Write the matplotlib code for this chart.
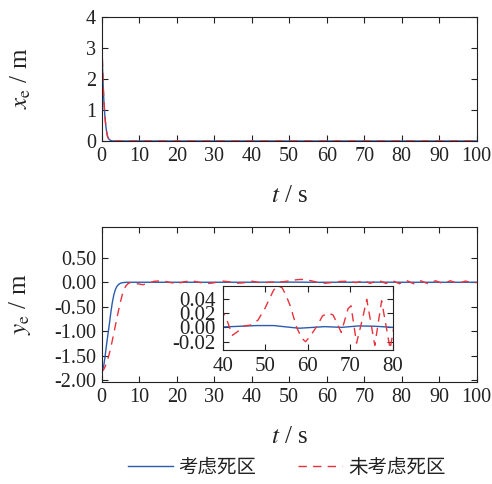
import matplotlib
matplotlib.use('Agg')
import matplotlib.pyplot as plt
from matplotlib.ticker import FormatStrFormatter

plt.rcParams['font.family'] = ['Liberation Serif', 'Noto Sans CJK SC']
plt.rcParams['mathtext.fontset'] = 'stix'
plt.rcParams['axes.unicode_minus'] = True

BLUE = '#2a5cb0'
RED = '#e8323c'
INK = '#222222'

# x_e 误差
t_x = [0, 0.2, 0.4, 0.6, 0.8, 1.0, 1.2, 1.4, 1.6, 1.9, 2.2, 2.6, 3.0, 5.0, 100]
xe_dz = [3.30, 2.45, 1.75, 1.25, 0.88, 0.60, 0.38, 0.24, 0.13, 0.06, 0.03, 0.01, 0.0, 0.0, 0.0]
xe_nodz = [3.60, 2.60, 1.80, 1.28, 0.90, 0.61, 0.39, 0.24, 0.13, 0.06, 0.03, 0.01, 0.0, 0.0, 0.0]

# y_e 误差（考虑死区）
t_y_dz = [0, 0.3, 0.6, 0.9, 1.2, 1.6, 2.0, 2.4, 2.8, 3.2, 3.6, 4.0, 4.5, 5.0, 5.5, 6.0, 7.0,
          10, 20, 30, 40, 44, 48, 52, 56, 58, 60, 64, 68, 72, 76, 80, 90, 100]
ye_dz = [-1.83, -1.78, -1.68, -1.52, -1.33, -1.10, -0.88, -0.64, -0.43, -0.27, -0.16, -0.09,
         -0.045, -0.02, -0.01, -0.004, 0.0,
         0.0, 0.0, 0.0, 0.0005, 0.0015, 0.0025, 0.0025, 0.0, -0.0012, -0.0005, 0.001, 0.0,
         0.002, 0.0015, 0.0, 0.0, 0.0]

# y_e 误差（未考虑死区）
t_y_nodz = [0, 0.5, 1.0, 1.5, 2.0, 2.5, 3.0, 3.5, 4.0, 4.5, 5.0, 5.5, 6.0, 6.5, 7.0, 7.5, 8.0,
            9.5, 11, 12.5, 14, 16, 18, 20, 22, 24, 26, 28, 30, 32, 34, 36, 38,
            40, 41, 42.3, 43.5, 45, 46.5, 48.3, 50, 51.1, 52, 53, 54, 54.8, 55.9, 57.4, 58.6,
            59.5, 60.5, 62.1, 63.5, 64.9, 66, 67.9, 69.5, 70.2, 71.5, 72.9, 73.9, 75.8, 77.4,
            79.4, 81.3, 83.2, 85.1, 87, 89, 91, 93, 95, 97, 99, 100]
ye_nodz = [-1.83, -1.79, -1.71, -1.60, -1.47, -1.31, -1.13, -0.94, -0.76, -0.57, -0.40, -0.25,
           -0.14, -0.07, -0.03, -0.01, 0.0,
           -0.03, -0.05, -0.02, 0.02, 0.03, 0.0, -0.03, 0.01, 0.03, 0.0, -0.03, -0.01, 0.025,
           0.01, -0.02, -0.01,
           0.022, 0.010, -0.011, -0.006, 0.002, 0.003, 0.010, 0.027, 0.041, 0.052, 0.058,
           0.055, 0.046, 0.030, 0.0, -0.015,
           -0.020, -0.013, 0.001, 0.016, 0.020, 0.017, -0.007, 0.026, 0.030, -0.022, 0.012,
           0.039, -0.025, 0.037,
           -0.030, 0.035, -0.030, 0.030, -0.030, 0.030, -0.025, 0.030, -0.030, 0.025, -0.020, 0.0]

x_ticks = list(range(0, 101, 10))
xe_ticks = [0, 1, 2, 3, 4]
ye_ticks = [-2.0, -1.5, -1.0, -0.5, 0.0, 0.5]
ins_xticks = [40, 50, 60, 70, 80]
ins_yticks = [-0.02, 0.0, 0.02, 0.04]

labels = ['考虑死区', '未考虑死区']

fig = plt.figure(figsize=(4.92, 4.84), dpi=100)
ax1 = fig.add_axes([0.2067, 0.7087, 0.7622, 0.2568])
ax2 = fig.add_axes([0.2067, 0.2107, 0.7622, 0.3203])
axi = fig.add_axes([0.4526, 0.2769, 0.3455, 0.1328])


def style(ax, size, length):
    ax.tick_params(direction='in', top=True, right=True, length=length, width=0.8,
                   labelsize=size, colors=INK, pad=4)
    for s in ax.spines.values():
        s.set_linewidth(0.8)
        s.set_color(INK)


dash = (0, (6, 4.5))

ax1.plot(t_x, xe_dz, color=BLUE, lw=1.0, label=labels[0])
ax1.plot(t_x, xe_nodz, color=RED, lw=1.0, ls=dash, label=labels[1])
ax1.set_xlim(0, 100)
ax1.set_ylim(0, 4)
ax1.set_xticks(x_ticks)
ax1.set_yticks(xe_ticks)
style(ax1, 14.5, 4.2)
ax1.set_xlabel(r'$t$ / s', fontsize=18, color=INK, labelpad=14)
ax1.set_ylabel(r'$x_{\rm e}$ / m', fontsize=18, color=INK)
ax1.yaxis.set_label_coords(-0.183, 0.5)

ax2.plot(t_y_dz, ye_dz, color=BLUE, lw=1.0)
ax2.plot(t_y_nodz, ye_nodz, color=RED, lw=1.0, ls=dash)
ax2.set_xlim(0, 100)
ax2.set_ylim(-2.04, 1.13)
ax2.set_xticks(x_ticks)
ax2.set_yticks(ye_ticks)
ax2.yaxis.set_major_formatter(FormatStrFormatter('%.2f'))
style(ax2, 14.5, 4.2)
ax2.set_xlabel(r'$t$ / s', fontsize=18, color=INK, labelpad=14)
ax2.set_ylabel(r'$y_{\rm e}$ / m', fontsize=18, color=INK)
ax2.yaxis.set_label_coords(-0.183, 0.5)

axi.set_facecolor('white')
axi.plot(t_y_dz, ye_dz, color=BLUE, lw=1.0)
axi.plot(t_y_nodz, ye_nodz, color=RED, lw=1.0, ls=dash)
axi.set_xlim(40, 80)
axi.set_ylim(-0.0315, 0.058)
axi.set_xticks(ins_xticks)
axi.set_yticks(ins_yticks)
axi.yaxis.set_major_formatter(FormatStrFormatter('%.2f'))
style(axi, 15, 4.2)
axi.tick_params(axis='y', pad=5)
axi.tick_params(axis='x', pad=5)

handles, _ = ax1.get_legend_handles_labels()
fig.legend(handles, labels, loc='center', bbox_to_anchor=(0.583, 0.035), ncol=2,
           frameon=False, handlelength=2.3, handletextpad=0.3,
           columnspacing=2.1, prop={'family': ['Noto Sans CJK SC'], 'size': 14},
           labelcolor=INK)

fig.savefig('out.png', dpi=100)
